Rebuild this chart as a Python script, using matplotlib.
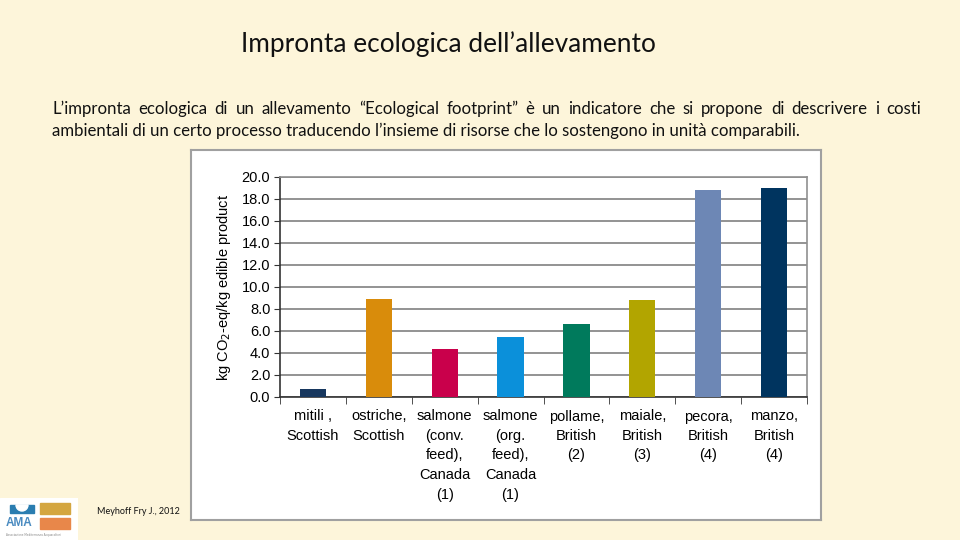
import matplotlib.pyplot as plt
from matplotlib.patches import Rectangle, Wedge

categories = ["mitili ,\nScottish", "ostriche,\nScottish", "salmone\n(conv.\nfeed),\nCanada\n(1)",
              "salmone\n(org.\nfeed),\nCanada\n(1)", "pollame,\nBritish\n(2)", "maiale,\nBritish\n(3)",
              "pecora,\nBritish\n(4)", "manzo,\nBritish\n(4)"]
values = [0.7, 8.9, 4.4, 5.5, 6.6, 8.8, 18.8, 19.0]
colors = ["#17375E", "#D98C0B", "#C9004B", "#0B90DA", "#007A5C", "#B2A500", "#6D87B5", "#00345F"]
yticks = [0, 2, 4, 6, 8, 10, 12, 14, 16, 18, 20]

title = "Impronta ecologica dell\u2019allevamento"
para1 = ("L\u2019impronta ecologica di un allevamento \u201cEcological footprint\u201d \u00e8 un indicatore "
         "che si propone di descrivere i costi")
para2 = ("ambientali di un certo processo traducendo l\u2019insieme di risorse che lo sostengono "
         "in unit\u00e0 comparabili.")
source = "Meyhoff Fry J., 2012"

bg = "#FDF5DA"
slide_font = ["Lato", "DejaVu Sans"]
fig = plt.figure(figsize=(9.6, 5.4), dpi=100, facecolor=bg)
renderer = fig.canvas.get_renderer()


def width_of(t):
    return t.get_window_extent(renderer).width


def fit(t, target_px):
    # scale the font so the text spans the wanted pixel width
    t.set_fontsize(t.get_fontsize() * target_px / width_of(t))


# slide title
t = fig.text(448 / 960, 1 - 44 / 540, title, ha="center", va="center", fontsize=16,
             family=slide_font, color="#111111")
fit(t, 415)

# justified paragraph
x_left, x_right = 52 / 960, 921 / 960
t2 = fig.text(x_left, 1 - 131 / 540, para2, ha="left", va="center", fontsize=11,
              family=slide_font, color="#111111")
fit(t2, 748)
fs = t2.get_fontsize()
words = para1.split(" ")
texts = [fig.text(0, 1 - 109 / 540, w, ha="left", va="center", fontsize=fs,
                  family=slide_font, color="#111111") for w in words]
widths = [width_of(w) / fig.bbox.width for w in texts]
gap = (x_right - x_left - sum(widths)) / (len(words) - 1)
x = x_left
for w, wd in zip(texts, widths):
    w.set_x(x)
    x += wd + gap

# embedded chart picture frame
frame = fig.add_axes([191 / 960, 20 / 540, 630 / 960, 370 / 540])
frame.set_xticks([])
frame.set_yticks([])
frame.set_facecolor("white")
for s in frame.spines.values():
    s.set_color("#A0A0A0")
    s.set_linewidth(1.5)

chart_font = ["Liberation Sans", "DejaVu Sans"]
ax = fig.add_axes([280 / 960, 143 / 540, 527 / 960, 220 / 540])
ax.set_facecolor("white")
pos = list(range(len(values)))
ax.bar(pos, values, width=0.4, color=colors, zorder=3)
ax.set_xlim(-0.5, len(values) - 0.5)
ax.set_ylim(0, 20)
ax.set_yticks(yticks)
ax.set_yticklabels([f"{v:.1f}" for v in yticks], fontsize=10.5, family=chart_font)
ax.yaxis.grid(True, color="#808080", linewidth=1.2, zorder=0)
ax.set_xticks(pos)
ax.set_xticklabels(categories, fontsize=10.5, family=chart_font, va="top", linespacing=1.5)
ax.tick_params(axis="x", length=0, pad=9)
ax.set_xticks([p + 0.5 for p in [-1] + pos], minor=True)
ax.tick_params(axis="x", which="minor", length=5, color="#333333", direction="out")
ax.tick_params(axis="y", length=4, color="#333333", direction="out", pad=3)
for side in ["left", "bottom"]:
    ax.spines[side].set_color("#333333")
    ax.spines[side].set_linewidth(1.2)
for side in ["top", "right"]:
    ax.spines[side].set_color("#909090")
    ax.spines[side].set_linewidth(1.2)
ax.set_ylabel("kg CO$_2$-eq/kg edible product", fontsize=10.5, family=chart_font, labelpad=6)

# logo
logo = fig.add_axes([0 / 960, 0 / 540, 78 / 960, 42 / 540])
logo.set_xlim(0, 78)
logo.set_ylim(0, 42)
logo.axis("off")
logo.add_patch(Rectangle((0, 0), 78, 42, color="white"))
logo.add_patch(Rectangle((10, 27), 24, 8, color="#2A7DB0"))
logo.add_patch(Wedge((22, 35), 6, 180, 360, color="white"))
logo.add_patch(Rectangle((40, 26), 30, 11, color="#D4A640"))
logo.add_patch(Rectangle((40, 11), 30, 11, color="#E8874A"))
logo.text(6, 17, "AMA", fontsize=8.5, fontweight="bold", color="#4A8BC0", va="center",
          family=chart_font)
logo.text(6, 5, "Associazione Mediterranea Acquacoltori", fontsize=2, color="#888888", va="center")

fig.text(97 / 960, 1 - 511 / 540, source, fontsize=6.5, ha="left", va="center",
         family=slide_font, color="#111111")

fig.savefig("out.png", dpi=100, facecolor=bg)
